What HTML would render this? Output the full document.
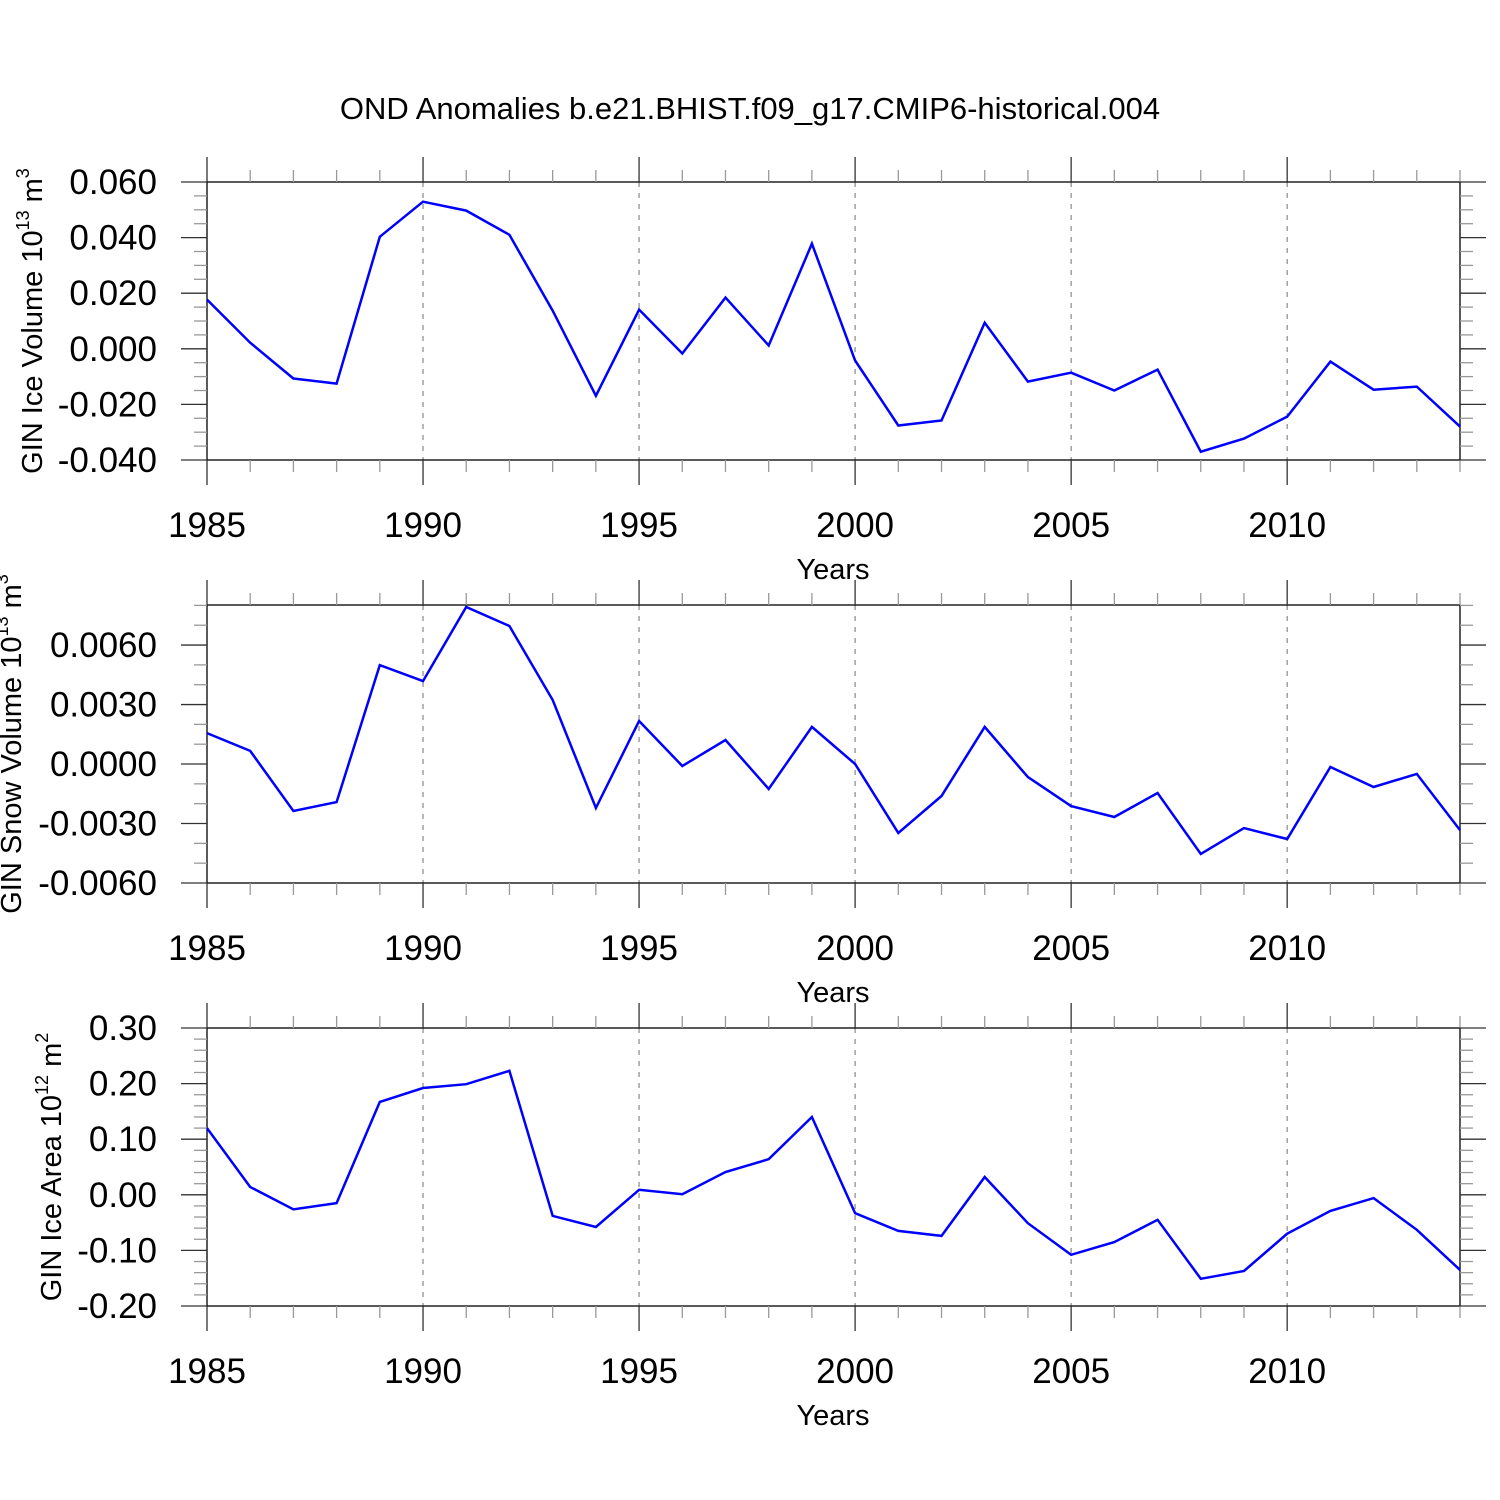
<!DOCTYPE html>
<html><head><meta charset="utf-8"><style>
body{margin:0;background:#fff}
svg{display:block;font-family:"Liberation Sans",Arial,sans-serif}
</style></head><body>
<svg id="c" width="1500" height="1500" xmlns="http://www.w3.org/2000/svg">
<rect width="1500" height="1500" fill="#fff"/>
<text x="750" y="119" font-size="31" text-anchor="middle">OND Anomalies b.e21.BHIST.f09_g17.CMIP6-historical.004</text>
</svg>
<script>
const years = [1985,1986,1987,1988,1989,1990,1991,1992,1993,1994,1995,1996,1997,1998,1999,2000,2001,2002,2003,2004,2005,2006,2007,2008,2009,2010,2011,2012,2013,2014];
const iceVolume = [0.0177,0.0022,-0.0107,-0.0125,0.0403,0.0529,0.0497,0.041,0.0137,-0.0169,0.0141,-0.0017,0.0184,0.0012,0.0378,-0.0042,-0.0276,-0.0258,0.0094,-0.0118,-0.0086,-0.015,-0.0075,-0.037,-0.0323,-0.0244,-0.0046,-0.0147,-0.0136,-0.028];
const snowVolume = [0.00156,0.00066,-0.00237,-0.00192,0.00499,0.00418,0.00792,0.00696,0.00323,-0.00222,0.00217,-0.0001,0.00121,-0.00126,0.00187,0,-0.00348,-0.00161,0.00187,-0.00066,-0.00212,-0.00267,-0.00146,-0.00454,-0.00323,-0.00378,-0.00015,-0.00116,-0.0005,-0.00333];
const iceArea = [0.12,0.014,-0.026,-0.015,0.167,0.192,0.199,0.223,-0.038,-0.058,0.009,0.001,0.041,0.064,0.14,-0.033,-0.065,-0.074,0.032,-0.051,-0.108,-0.085,-0.045,-0.151,-0.137,-0.07,-0.029,-0.006,-0.063,-0.135];
const xTicks = [1985,1990,1995,2000,2005,2010];
const iceVolTicks = ["0.060","0.040","0.020","0.000","-0.020","-0.040"];
const snowTicks = ["0.0060","0.0030","0.0000","-0.0030","-0.0060"];
const areaTicks = ["0.30","0.20","0.10","0.00","-0.10","-0.20"];

const NS="http://www.w3.org/2000/svg", svg=document.getElementById('c');
function mk(tag,attrs,parent){const e=document.createElementNS(NS,tag);for(const k in attrs)e.setAttribute(k,attrs[k]);(parent||svg).appendChild(e);return e;}
const X0=207,X1=1460;
function xs(y){return X0+(y-1985)/(2014-1985)*(X1-X0);}

function panel(name,top,bot,ymin,ymax,vals,tickLabels,minorStep,titleParts,titleX,sup,unit){
  const g=mk('g',{});
  
  
  const ys=v=>bot-(v-ymin)/(ymax-ymin)*(bot-top);
  const tv=tickLabels.map(Number);
  xTicks.slice(1).forEach(t=>{const l=mk('line',{x1:xs(t),x2:xs(t),y1:top,y2:bot,stroke:'#888','stroke-width':1.2,'stroke-dasharray':'5,6'},g);
    });
  mk('rect',{x:X0,y:top,width:X1-X0,height:bot-top,fill:'none',stroke:'#000','stroke-width':1.3},g);
  for(let y=1985;y<=2014;y++){const maj=(y%5==0);const L=maj?25:12;const x=xs(y);
    mk('line',{x1:x,x2:x,y1:top,y2:top-L,stroke:maj?'#333':'#999','stroke-width':1.3},g);
    mk('line',{x1:x,x2:x,y1:bot,y2:bot+L,stroke:maj?'#333':'#999','stroke-width':1.3},g);}
  xTicks.forEach(t=>{const e=mk('text',{x:xs(t),y:bot+77,'font-size':35,'text-anchor':'middle'},g);e.textContent=t;
    });
  const xt=mk('text',{x:833,y:bot+119,'font-size':29,'text-anchor':'middle'},g);xt.textContent='Years';
  
  const n=Math.round((ymax-ymin)/minorStep);
  for(let i=0;i<=n;i++){const v=ymin+i*minorStep;const maj=tv.some(t=>Math.abs(t-v)<minorStep*0.1);const L=maj?26:13;const y=ys(v);
    mk('line',{x1:X0,x2:X0-L,y1:y,y2:y,stroke:maj?'#333':'#999','stroke-width':1.3},g);
    mk('line',{x1:X1,x2:X1+L,y1:y,y2:y,stroke:maj?'#333':'#999','stroke-width':1.3},g);}
  tickLabels.forEach((t,i)=>{const e=mk('text',{x:157,y:ys(tv[i])+12,'font-size':35,'text-anchor':'end'},g);e.textContent=t;
    });
  const cy=(top+bot)/2;
  const yt=mk('text',{x:titleX,y:cy,'font-size':29,'text-anchor':'middle',transform:`rotate(-90 ${titleX} ${cy})`},g);
  
  const t1=mk('tspan',{},yt);t1.textContent=titleParts+' 10';
  const t2=mk('tspan',{'font-size':18,dy:-13},yt);t2.textContent=sup;
  const t3=mk('tspan',{dy:13},yt);t3.textContent=' m';
  const t4=mk('tspan',{'font-size':18,dy:-13},yt);t4.textContent=unit;
  const pts=vals.map((v,i)=>xs(years[i]).toFixed(1)+','+ys(v).toFixed(1)).join(' ');
  const pl=mk('polyline',{points:pts,fill:'none',stroke:'#0000ff','stroke-width':2.5,'stroke-linejoin':'miter'},g);
  
}
panel('ice-volume',182,460,-0.04,0.06,iceVolume,iceVolTicks,0.005,'GIN Ice Volume',42,'13','3');
panel('snow-volume',605,883,-0.006,0.00802,snowVolume,snowTicks,0.001,'GIN Snow Volume',21,'13','3');
panel('ice-area',1028,1306,-0.2,0.3,iceArea,areaTicks,0.02,'GIN Ice Area',61,'12','2');
</script>
</body></html>
